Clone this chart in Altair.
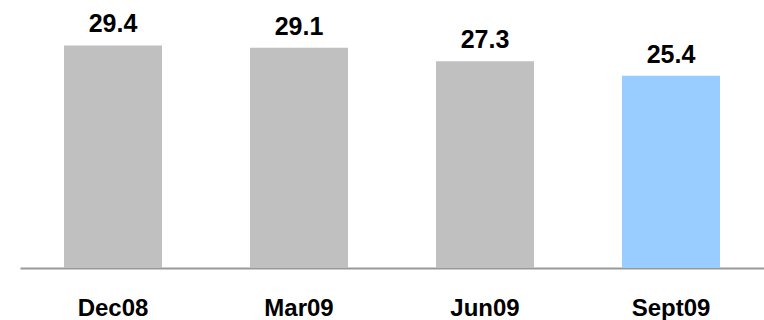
import altair as alt
import pandas as pd

periods = ["Dec08", "Mar09", "Jun09", "Sept09"]
values = [29.4, 29.1, 27.3, 25.4]
colors = ["#C0C0C0", "#C0C0C0", "#C0C0C0", "#99CCFF"]

df = pd.DataFrame({"period": periods, "value": values, "color": colors})

x = alt.X(
    "period:N",
    sort=periods,
    title=None,
    scale=alt.Scale(paddingInner=0.473, paddingOuter=0.2365),
    axis=alt.Axis(
        labelAngle=0,
        labelFont="Liberation Sans",
        labelFontWeight="bold",
        labelFontSize=24,
        labelColor="#000000",
        labelBaseline="alphabetic",
        labelPadding=47,
        ticks=False,
        tickSize=0,
        domainColor="#999999",
        domainWidth=2,
        grid=False,
    ),
)
y = alt.Y(
    "value:Q",
    scale=alt.Scale(domain=[0, 35.4], nice=False, zero=True),
    axis=None,
)

base = alt.Chart(df).encode(x=x, y=y)

bars = base.mark_bar(cornerRadius=0).encode(
    color=alt.Color("color:N", scale=None)
)
labels = base.mark_text(
    font="Liberation Sans",
    fontWeight="bold",
    fontSize=25,
    color="#000000",
    baseline="alphabetic",
    dy=-13,
).encode(text=alt.Text("value:Q", format=".1f"))

chart = (
    (bars + labels)
    .properties(
        width=744,
        height=268,
        autosize=alt.AutoSizeParams(type="none"),
        padding={"left": 20, "top": 0, "right": 0, "bottom": 52},
        background="#FFFFFF",
    )
    .configure_view(stroke=None)
)

chart.save("out.html", embed_options={"renderer": "svg", "actions": False})
